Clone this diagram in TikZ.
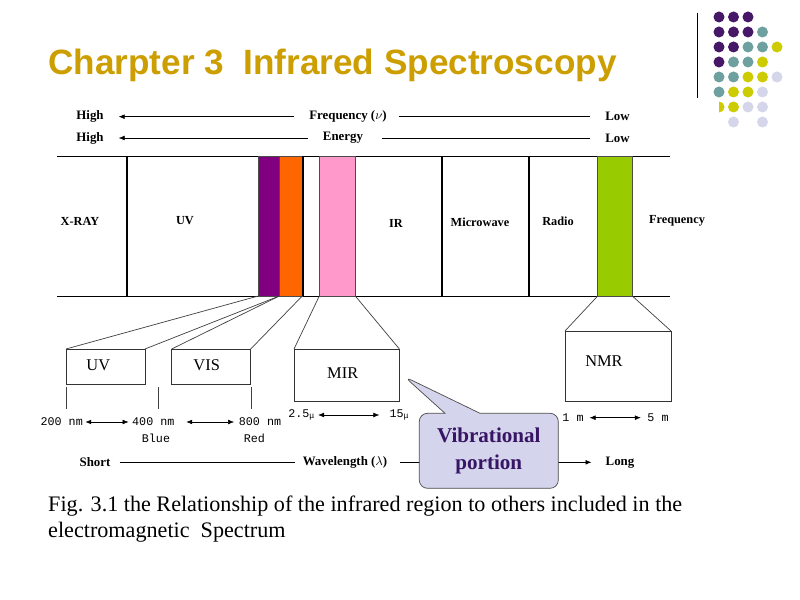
\documentclass[tikz,border=0pt]{standalone}
\usepackage{fontspec}
\setmainfont{Liberation Serif}
\setmonofont{Liberation Mono}
\newfontfamily\titlefont{Liberation Sans}
\usetikzlibrary{arrows.meta,shapes.callouts}

\definecolor{titlegold}{RGB}{204,158,0}
\definecolor{dotpurple}{RGB}{72,24,104}
\definecolor{dotteal}{RGB}{110,160,160}
\definecolor{dotyellow}{RGB}{204,204,0}
\definecolor{dotlav}{RGB}{214,214,234}
\definecolor{stripPurple}{RGB}{128,0,128}
\definecolor{stripOrange}{RGB}{255,102,0}
\definecolor{stripPink}{RGB}{255,153,204}
\definecolor{stripGreen}{RGB}{153,204,0}
\definecolor{calloutFill}{RGB}{212,212,236}
\definecolor{calloutText}{RGB}{55,20,100}

\tikzset{
  toplbl/.style={font=\bfseries\fontsize{11}{13}\selectfont, inner sep=0},
  bandlbl/.style={font=\bfseries\fontsize{10.5}{12}\selectfont, inner sep=0},
  boxlbl/.style={font=\fontsize{14}{16}\selectfont, inner sep=0},
  wavelbl/.style={font=\ttfamily\fontsize{10}{12}\selectfont, inner sep=0},
  subbox/.style={draw=black!80, line width=0.6pt, inner sep=0, outer sep=0},
  strip/.style={draw=black!70, line width=0.5pt, inner sep=0, outer sep=0, minimum height=4.2cm},
  zoomline/.style={black!75, line width=0.6pt},
  bandsep/.style={line width=2.2pt},
  tip/.style={-{Latex[length=5pt,width=4pt]}},
  bitip/.style={{Latex[length=5pt,width=4pt]}-{Latex[length=5pt,width=4pt]}}
}

\begin{document}
\begin{tikzpicture}[x=0.03cm, y=-0.03cm]
  \fill[white] (0,0) rectangle (800,600);
  \useasboundingbox (0,0) rectangle (800,600);

  % title and logo dots
  \node[anchor=base west, inner sep=0, text=titlegold,
        font=\titlefont\bfseries\fontsize{30}{36}\selectfont] (title) at (48,75) {Charpter 3~ Infrared Spectroscopy};
  \draw[thin] (697,13) -- (697,98);
  \foreach \cx/\cy/\cc in {719/17/dotpurple, 733.5/17/dotpurple, 748/17/dotpurple,
      719/32/dotpurple, 733.5/32/dotpurple, 748/32/dotpurple, 762.5/32/dotteal,
      719/47/dotpurple, 733.5/47/dotpurple, 748/47/dotteal, 762.5/47/dotteal, 777/47/dotyellow,
      719/62/dotpurple, 733.5/62/dotteal, 748/62/dotteal, 762.5/62/dotyellow,
      719/77/dotteal, 733.5/77/dotteal, 748/77/dotyellow, 762.5/77/dotyellow, 777/77/dotlav,
      719/92/dotteal, 733.5/92/dotyellow, 748/92/dotyellow, 762.5/92/dotlav,
      733.5/107/dotyellow, 748/107/dotlav, 762.5/107/dotlav,
      733.5/122/dotlav, 762.5/122/dotlav}
    \fill[\cc] (\cx,\cy) circle[radius=0.165cm];
  \fill[dotyellow] (719,101.5) arc[start angle=90, end angle=-90, radius=0.165cm] -- cycle;

  % frequency / energy rows
  \node[toplbl] (high1) at (90,116.7) {High};
  \node[toplbl] (freq) at (348,116.7) {Frequency ($\nu$)};
  \node[toplbl] (low1) at (617.5,116.7) {Low};
  \node[toplbl] (high2) at (90,138) {High};
  \node[toplbl] (energy) at (343,138) {Energy};
  \node[toplbl] (low2) at (617.5,138) {Low};
  \draw[tip, shorten <=12.7pt, shorten >=12.7pt] (freq) -- (high1);
  \draw[shorten <=10pt, shorten >=12.7pt] (freq) -- (low1);
  \draw[tip, shorten <=12.7pt, shorten >=12.7pt] (energy) -- (high2);
  \draw[shorten <=16pt, shorten >=12.7pt] (energy) -- (low2);

  % spectrum band
  \draw[line width=0.6pt] (57,156) -- (670,156);
  \draw[line width=0.6pt] (57,296) -- (670,296);
  \node[strip, fill=stripPurple, minimum width=0.63cm] (purple) at (268.8,226) {};
  \node[strip, fill=stripOrange, minimum width=0.69cm] (orange) at (290.8,226) {};
  \node[strip, fill=stripPink, minimum width=1.08cm] (pink) at (337.3,226) {};
  \node[strip, fill=stripGreen, minimum width=1.04cm] (green) at (615,226) {};
  \foreach \sx in {127,303,442,529}
    \draw[bandsep] (\sx,156) -- (\sx,296);

  \node[bandlbl] (xray) at (80,221) {X-RAY};
  \node[bandlbl] (uv) at (185,221) {UV};
  \node[bandlbl] (ir) at (396,223) {IR};
  \node[bandlbl] (micro) at (480,222.7) {Microwave};
  \node[bandlbl] (radio) at (558,221) {Radio};
  \node[bandlbl] (freqb) at (677,221) {Frequency};

  % zoomed boxes
  \node[subbox, minimum width=2.37cm, minimum height=1.05cm] (uvbox) at (105.5,366.5) {};
  \node[subbox, minimum width=2.37cm, minimum height=1.05cm] (visbox) at (211.2,366.5) {};
  \node[subbox, minimum width=3.16cm, minimum height=1.56cm] (mirbox) at (346.7,375) {};
  \node[subbox, minimum width=3.18cm, minimum height=2.1cm] (nmrbox) at (618,366) {};
  \node[boxlbl] (uvlbl) at (98.3,365) {UV};
  \node[boxlbl] (vislbl) at (206.7,365) {VIS};
  \node[boxlbl] (mirlbl) at (342.7,373.3) {MIR};
  \node[boxlbl] (nmrlbl) at (604,360.7) {NMR};

  \draw[zoomline] (purple.south west) -- (uvbox.north west);
  \draw[zoomline] (purple.south east) -- (uvbox.north east);
  \draw[zoomline] (purple.south east) -- (visbox.north west);
  \draw[zoomline] (orange.south east) -- (visbox.north east);
  \draw[zoomline] (pink.south west) -- (mirbox.north west);
  \draw[zoomline] (pink.south east) -- (mirbox.north east);
  \draw[zoomline] (green.south west) -- (nmrbox.north west);
  \draw[zoomline] (green.south east) -- (nmrbox.north east);

  \foreach \tx in {66,158,251}
    \draw[zoomline] (\tx,387) -- (\tx,409);

  % wavelength scale
  \node[wavelbl] (nm200) at (61.7,422) {200 nm};
  \node[wavelbl] (nm400) at (153.3,422) {400 nm};
  \node[wavelbl] (nm800) at (260,422) {800 nm};
  \node[wavelbl] (blue) at (156,438) {Blue};
  \node[wavelbl] (red) at (254.3,438) {Red};
  \node[wavelbl] (mu25) at (301.7,415) {2.5\textsubscript{μ}};
  \node[wavelbl] (mu15) at (399.3,415) {15\textsubscript{μ}};
  \node[wavelbl] (m1) at (573,417.7) {1 m};
  \node[wavelbl] (m5) at (658,417.7) {5 m};
  \draw[bitip, shorten <=2pt, shorten >=3pt] (nm200) -- (nm400);
  \draw[bitip, shorten <=10pt, shorten >=4pt] (nm400) -- (nm800);
  \draw[bitip, shorten <=2.5pt, shorten >=8.5pt] (mu25) -- (mu15);
  \draw[bitip, shorten <=5pt, shorten >=5.5pt] (m1) -- (m5);

  % short / long row
  \node[toplbl] (short) at (95,462.3) {Short};
  \node[toplbl] (wave) at (345,462.3) {Wavelength ($\lambda$)};
  \node[toplbl] (long) at (620,462.3) {Long};
  \draw[shorten <=7.7pt, shorten >=6.8pt] (short) -- (wave);
  \draw[tip, shorten <=11pt, shorten >=12pt] (wave) -- (long);

  % callout
  \node[rectangle callout, draw=black!70, line width=0.6pt, fill=calloutFill,
        rounded corners=7pt, minimum width=4.17cm, minimum height=2.25cm,
        callout absolute pointer={([xshift=0.15cm,yshift=-0.05cm]mirbox.east)},
        callout pointer width=1.05cm, align=center, text=calloutText,
        font=\bfseries\fontsize{18}{22.7}\selectfont] (vib) at (488.8,450.8) {Vibrational\\portion};

  % caption
  \node[anchor=north west, inner sep=0, align=left,
        font=\fontsize{18.9}{22}\selectfont] (caption) at (48,496)
    {Fig. 3.1 the Relationship of the infrared region to others included in the\\electromagnetic~ Spectrum};
\end{tikzpicture}
\end{document}
